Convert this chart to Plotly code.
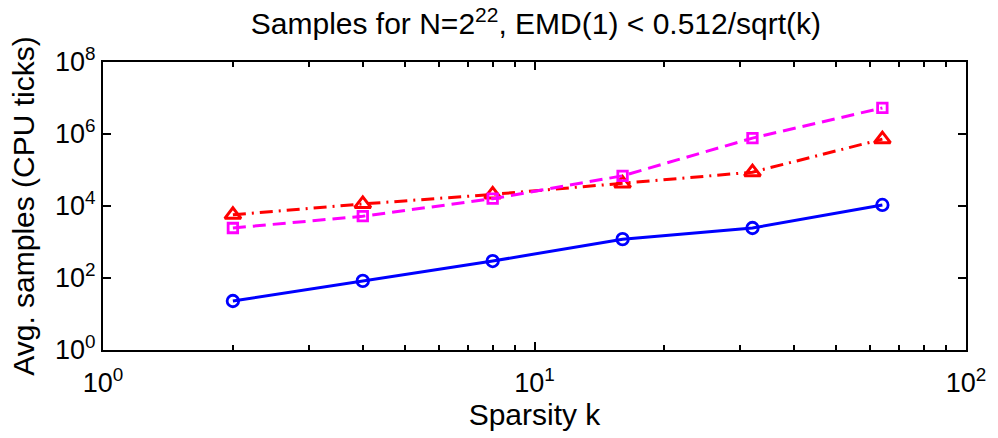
import plotly.graph_objects as go

k = [2, 4, 8, 16, 32, 64]
blue_vals = [23, 83, 296, 1200, 2450, 10700]
red_vals = [5700, 11400, 21000, 42000, 87000, 720000]
magenta_vals = [2450, 5200, 16000, 69000, 770000, 5300000]

x_tickvals = [1, 10, 100]
x_ticktext = ["10<sup>0</sup>", "10<sup>1</sup>", "10<sup>2</sup>"]
x_minor = [2, 3, 4, 5, 6, 7, 8, 9, 20, 30, 40, 50, 60, 70, 80, 90]
y_tickvals = [1, 1e2, 1e4, 1e6, 1e8]
y_ticktext = ["10<sup>0</sup>", "10<sup>2</sup>", "10<sup>4</sup>", "10<sup>6</sup>", "10<sup>8</sup>"]

fig = go.Figure()
fig.add_trace(go.Scatter(
    x=k, y=blue_vals, mode="lines+markers",
    line=dict(color="#0000FF", width=3),
    marker=dict(symbol="circle-open", size=11.5, color="#0000FF", line=dict(width=2.8)),
))
fig.add_trace(go.Scatter(
    x=k, y=red_vals, mode="lines+markers",
    line=dict(color="#FF0000", width=3, dash="13px,6px,2px,6px"),
    marker=dict(symbol="triangle-up-open", size=14, color="#FF0000", line=dict(width=3)),
))
fig.add_trace(go.Scatter(
    x=k, y=magenta_vals, mode="lines+markers",
    line=dict(color="#FF00FF", width=3, dash="13px,7px"),
    marker=dict(symbol="square-open", size=9.5, color="#FF00FF", line=dict(width=2.8)),
))

font_family = "Liberation Sans, Arial, sans-serif"
fig.update_layout(
    width=998, height=438,
    margin=dict(l=103, r=28, t=62, b=88),
    paper_bgcolor="white", plot_bgcolor="white",
    showlegend=False,
    font=dict(family=font_family, size=26, color="black"),
    title=dict(
        text="Samples for N=2<sup>22</sup>, EMD(1) &lt; 0.512/sqrt(k)",
        x=0.537, xanchor="center", y=0.97, yanchor="top",
        font=dict(size=30, family=font_family),
    ),
    xaxis=dict(
        type="log", range=[0, 2],
        tickvals=x_tickvals, ticktext=x_ticktext,
        ticks="inside", ticklen=8, tickwidth=1.5, tickcolor="black",
        showline=True, linecolor="black", linewidth=2, mirror="ticks",
        showgrid=False, zeroline=False,
        minor=dict(tickvals=x_minor, ticks="inside", ticklen=5, tickwidth=1.5,
                   tickcolor="black", showgrid=False),
        tickfont=dict(size=27),
        ticklabelstandoff=8,
        title=dict(text="Sparsity k", font=dict(size=30), standoff=3),
    ),
    yaxis=dict(
        type="log", range=[0, 8],
        tickvals=y_tickvals, ticktext=y_ticktext,
        ticks="inside", ticklen=8, tickwidth=1.5, tickcolor="black",
        showline=True, linecolor="black", linewidth=2, mirror="ticks",
        showgrid=False, zeroline=False,
        tickfont=dict(size=27),
        title=dict(text="Avg. samples (CPU ticks)", font=dict(size=30), standoff=12),
    ),
)

fig.write_html("out.html")
